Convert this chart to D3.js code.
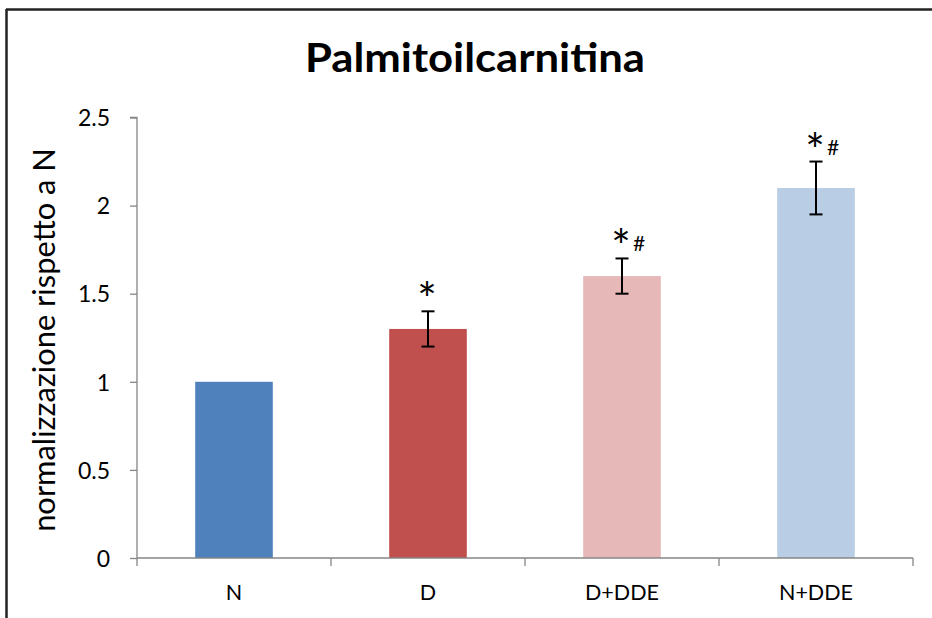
<!DOCTYPE html>
<html>
<head>
<meta charset="utf-8">
<script src="https://cdn.jsdelivr.net/npm/d3@7"></script>
<style>
  html, body { margin: 0; padding: 0; background: #fff; }
  svg { display: block; }
</style>
</head>
<body>
<svg id="chart" width="932" height="618"></svg>
<script>
// Data
const categories = ["N", "D", "D+DDE", "N+DDE"];
const values = [1.0, 1.3, 1.6, 2.1];
const errors = [0, 0.1, 0.1, 0.15];
const marks = ["", "*", "*#", "*#"];
const colors = ["#4F81BD", "#C0504D", "#E6B9B8", "#B9CDE5"];
const yTicks = [0, 0.5, 1, 1.5, 2, 2.5];

const svg = d3.select("#chart");
const W = 932, H = 618;
const font = "Lato, 'Open Sans', sans-serif";

// Scale a text's font size so its rendered width equals the given width
function fitWidth(sel, target) {
  const node = sel.node();
  const fs = parseFloat(sel.attr("font-size"));
  const w = node.getComputedTextLength();
  if (w > 0) sel.attr("font-size", fs * target / w);
  return sel;
}

// Outer frame (top and left edges)
svg.append("line").attr("x1", 6).attr("x2", W).attr("y1", 9.5).attr("y2", 9.5)
  .attr("stroke", "#222").attr("stroke-width", 2.5);
svg.append("line").attr("x1", 6.5).attr("x2", 6.5).attr("y1", 9).attr("y2", H)
  .attr("stroke", "#222").attr("stroke-width", 2.5);

const plotLeft = 137, plotRight = 913, plotTop = 117.5, plotBottom = 558;

const x = d3.scaleBand().domain(categories).range([plotLeft, plotRight]).paddingInner(0.6).paddingOuter(0.3);
const xb = d3.scaleBand().domain(categories).range([plotLeft, plotRight]);
const y = d3.scaleLinear().domain([0, 2.5]).range([plotBottom, plotTop]);

// Title
svg.append("text")
  .attr("x", 475).attr("y", 72)
  .attr("text-anchor", "middle")
  .attr("font-family", font).attr("font-weight", "bold")
  .attr("font-size", 41).attr("fill", "#000")
  .attr("textLength", 340).attr("lengthAdjust", "spacingAndGlyphs")
  .text("Palmitoilcarnitina");

// Bars
svg.append("g").selectAll("rect").data(categories).join("rect")
  .attr("x", d => x(d))
  .attr("width", x.bandwidth())
  .attr("y", (d, i) => y(values[i]))
  .attr("height", (d, i) => y(0) - y(values[i]))
  .attr("fill", (d, i) => colors[i]);

// Y axis
const yAxis = svg.append("g").attr("transform", `translate(${plotLeft},0)`)
  .call(d3.axisLeft(y).tickValues(yTicks).tickSize(7).tickPadding(20)
    .tickFormat(d => String(d)));
yAxis.select(".domain").attr("stroke", "#868686").attr("stroke-width", 1.3)
  .attr("d", `M-7,${plotTop}H0V${plotBottom}`);
yAxis.selectAll(".tick line").attr("stroke", "#868686").attr("stroke-width", 1.3);
yAxis.selectAll(".tick text").attr("font-family", font).attr("font-size", 23).attr("fill", "#000")
  .attr("dy", "0.36em");

// X axis: ticks at category boundaries
const xAxisG = svg.append("g").attr("transform", `translate(0,${plotBottom})`);
xAxisG.append("line").attr("x1", plotLeft).attr("x2", plotRight).attr("y1", 0).attr("y2", 0)
  .attr("stroke", "#868686").attr("stroke-width", 1.3);
const bounds = categories.map(c => xb(c) + xb.bandwidth());
xAxisG.selectAll("line.b").data([plotLeft].concat(bounds)).join("line")
  .attr("class", "b")
  .attr("x1", d => d).attr("x2", d => d).attr("y1", 0).attr("y2", 8)
  .attr("stroke", "#868686").attr("stroke-width", 1.3);
const catLabels = xAxisG.selectAll("text").data(categories).join("text")
  .attr("x", d => xb(d) + xb.bandwidth() / 2)
  .attr("y", 42)
  .attr("text-anchor", "middle")
  .attr("font-family", font).attr("font-size", 22).attr("fill", "#000")
  .text(d => d);
// size category labels so "D+DDE" spans its measured width
{
  const ref = catLabels.filter(d => d === "D+DDE").node();
  const k = 74 / ref.getComputedTextLength();
  catLabels.attr("font-size", 22 * k);
}

// Y axis title
fitWidth(svg.append("text")
  .attr("transform", `translate(55,340) rotate(-90)`)
  .attr("text-anchor", "middle")
  .attr("font-family", font).attr("font-size", 26).attr("fill", "#000")
  .text("normalizzazione rispetto a N"), 384);

// Error bars
const eg = svg.append("g").attr("stroke", "#000").attr("stroke-width", 2);
categories.forEach((c, i) => {
  if (!errors[i]) return;
  const cx = xb(c) + xb.bandwidth() / 2;
  const y1 = y(values[i] + errors[i]), y2 = y(values[i] - errors[i]);
  eg.append("line").attr("x1", cx).attr("x2", cx).attr("y1", y1).attr("y2", y2);
  eg.append("line").attr("x1", cx - 6.5).attr("x2", cx + 6.5).attr("y1", y1).attr("y2", y1);
  eg.append("line").attr("x1", cx - 6.5).attr("x2", cx + 6.5).attr("y1", y2).attr("y2", y2);
});

// Significance marks
categories.forEach((c, i) => {
  const m = marks[i];
  if (!m) return;
  const cx = xb(c) + xb.bandwidth() / 2;
  const yt = y(values[i] + errors[i]);
  svg.append("text")
    .attr("x", cx - 1).attr("y", yt + 5)
    .attr("text-anchor", "middle")
    .attr("font-family", font).attr("font-size", 46).attr("fill", "#000")
    .text("*");
  if (m.includes("#")) {
    svg.append("text")
      .attr("x", cx + 17).attr("y", yt - 7)
      .attr("text-anchor", "middle")
      .attr("font-family", font).attr("font-size", 21).attr("fill", "#000")
      .text("#");
  }
});
</script>
</body>
</html>
